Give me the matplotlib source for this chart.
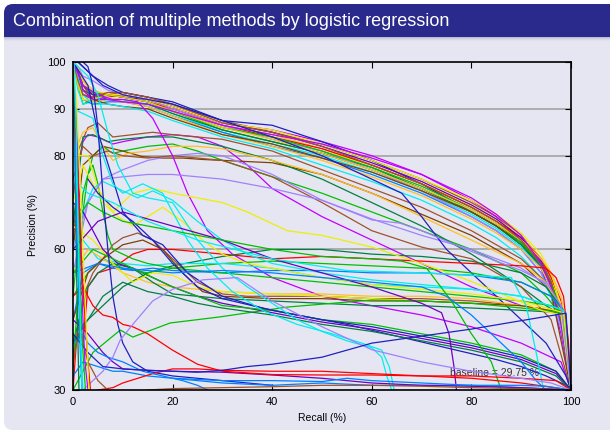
import matplotlib.pyplot as plt
from matplotlib.patches import FancyBboxPatch, Rectangle

plt.rcParams['font.family'] = ['Liberation Sans', 'DejaVu Sans']

RED = '#FF0000'
GREEN = '#00C000'
SKY = '#0080FF'
MAGENTA = '#C000FF'
CYAN = '#00EEEE'
BROWN = '#A0522D'
YELLOW = '#EEEE00'
NAVY = '#2020C0'
GOLD = '#FFC020'
DKGREEN = '#008040'
LAVENDER = '#A080FF'
DKBROWN = '#804000'
PURPLE = '#7000C0'

# upper bundle: all curves share one recall grid
top_recall = [0, 1, 2, 4, 7, 10, 15, 20, 30, 40, 50, 60, 70, 80, 85, 90, 94, 96, 98, 99, 100]
top_precision = [
    [100, 99, 96, 93, 93.5, 93, 92, 90.5, 86.5, 84.5, 81.5, 78, 74, 69, 66, 62, 57, 52, 44, 38, 30],
    [100, 98, 95, 92, 93, 93.5, 92.5, 91, 87.5, 85, 82.5, 79, 75, 70, 67, 63, 58, 54, 47, 40, 30],
    [100, 96, 93, 92, 92.5, 93, 92, 90.5, 87, 85.5, 83, 80, 76, 70.5, 67, 62, 56, 50, 42, 36, 30],
    [100, 100, 99, 97, 95, 93.5, 92.5, 91.5, 87.5, 86.5, 83, 79, 74, 68, 65, 61, 56, 52, 45, 38, 30],
    [100, 97, 92, 91, 92.5, 92, 91, 89.5, 86, 84, 81, 78, 74, 69.5, 66.5, 63, 58, 54, 47, 41, 30],
    [100, 95, 91, 92, 93, 92.5, 91.5, 89.5, 85.5, 83, 80.5, 77, 73, 68, 65, 61, 57, 53, 47, 42, 30],
    [100, 94, 91, 91.5, 92, 92, 91, 89, 85, 82.5, 80, 76.5, 72.5, 67.5, 64.5, 60.5, 56, 52, 46, 40, 30],
    [100, 97, 93, 92.5, 93, 92.5, 91.5, 90, 86.5, 84, 81.5, 78, 74, 69, 66, 62.5, 58, 54, 49, 43, 30],
    [100, 98, 94, 93, 92, 91.5, 91, 89, 85.5, 83, 80.5, 77.5, 73, 68, 65, 61, 56.5, 52, 45, 39, 30],
    [100, 96, 92, 91, 91.5, 91.5, 90.5, 88.5, 85, 82, 79.5, 76, 72, 67, 64, 60, 55, 51, 44, 38, 30],
    [100, 99, 97, 96, 94, 93, 92, 90, 86.5, 83.5, 81, 77, 72.5, 67, 64, 60, 55, 50, 43, 37, 30],
    [100, 95, 92, 91.5, 92, 91.5, 90.5, 88.5, 84.5, 82, 79, 75.5, 71.5, 66.5, 63.5, 60, 56, 52, 46, 40, 30],
    [100, 97, 94, 92, 91, 90.5, 90, 88, 84.5, 82.5, 79.5, 76.5, 72.5, 68, 65, 61.5, 57, 52.5, 46, 40, 30],
    [100, 98, 95, 93, 93, 92.5, 92, 90.5, 87, 85, 82, 78.5, 74.5, 69.5, 66.5, 62.5, 57.5, 53, 46, 40, 30],
    [100, 96, 92, 92, 93, 93, 92, 90.5, 87, 85.5, 82.5, 79, 75, 70.5, 67.5, 63.5, 59, 55, 48, 41, 30],
    [100, 97, 93, 91, 91, 90.5, 89.5, 87.5, 84, 81.5, 78, 74.5, 70.5, 65.5, 62.5, 58.5, 54, 50, 44, 38, 30],
    [100, 98, 95, 93.5, 93, 92.5, 91.5, 89.5, 86, 84, 81, 77.5, 73.5, 68.5, 65.5, 61.5, 57, 53, 46, 40, 30],
    [100, 99, 96, 94, 93, 92.5, 91.5, 89.5, 86, 83.5, 80.5, 77, 73, 68.5, 65.5, 62, 58, 55, 50, 44, 30],
    [100, 96, 93, 92.5, 93.5, 93.5, 92.5, 91, 87, 85, 82, 78, 74, 69, 66, 62, 57, 53, 45, 39, 30],
    [100, 98, 94, 92, 92, 91.5, 91, 89.5, 86.5, 84.5, 82.5, 79.5, 76, 71, 67.5, 63, 57, 52, 44, 37, 30],
]
top_colors = [GOLD, BROWN, MAGENTA, NAVY, YELLOW, GREEN, CYAN, RED, DKGREEN, SKY,
              LAVENDER, GOLD, DKBROWN, PURPLE, YELLOW, CYAN, GREEN, GOLD, BROWN, MAGENTA]

# second tier, starting near 80-87 and falling off faster
second_curves = [
    (MAGENTA, [0, 1, 2, 3, 5, 8, 10, 15, 20, 25, 30, 35, 40, 50, 60, 70, 80, 90, 98, 100],
              [60, 78, 83, 84.5, 84, 82.5, 83, 84, 84.5, 84, 82, 78, 73, 67, 62, 57, 52, 48, 46.5, 30]),
    (GREEN, [0, 2, 4, 6, 8, 10, 15, 20, 25, 30, 40, 50, 60, 70, 80, 90, 95, 98, 100],
            [50, 72, 80, 82, 80.5, 81, 82, 82.5, 81, 79, 75.5, 72, 68, 64, 60, 55, 50, 46, 30]),
    (BROWN, [0, 1, 3, 5, 8, 12, 16, 20, 25, 30, 40, 50, 60, 70, 80, 90, 95, 98, 100],
            [70, 81, 86, 87, 84, 84.5, 85, 84.5, 84, 83.5, 81, 77, 73, 69, 64, 58, 53, 47, 30]),
    (DKBROWN, [0, 2, 4, 6, 10, 14, 18, 22, 26, 30, 40, 50, 60, 70, 80, 90, 96, 100],
              [60, 78, 80, 82, 81, 79.8, 79.5, 79.5, 79.2, 79, 78.5, 76, 72, 67.5, 63, 57, 51, 30]),
    (LAVENDER, [0, 3, 6, 10, 15, 20, 25, 30, 40, 50, 60, 70, 80, 90, 95, 98, 100],
               [55, 70, 75, 77, 79, 80, 80.5, 80, 76, 70.5, 66.5, 63, 60, 56, 52.5, 48, 30]),
    (DKGREEN, [0, 2, 4, 7, 10, 15, 20, 30, 40, 50, 60, 70, 80, 90, 95, 98, 100],
              [65, 84, 84.5, 83, 83.5, 84, 84, 82, 79, 75, 70, 65, 59, 52, 48, 46, 30]),
    (GOLD, [0, 2, 4, 6, 8, 11, 15, 20, 25, 30, 40, 50, 60, 70, 80, 90, 95, 98, 100],
           [80, 85, 86, 82, 79, 80.5, 81, 82, 82, 81.5, 79, 76, 72, 67, 62, 57, 53, 47, 30]),
    (BROWN, [0, 2, 4, 7, 10, 15, 20, 30, 40, 50, 60, 70, 80, 90, 96, 100],
            [75, 82, 80, 81, 80, 79.5, 80, 79, 75.5, 70, 64, 60.5, 58, 52, 45, 30]),
    (MAGENTA, [0, 2, 5, 8, 10, 13, 16, 20, 23, 27, 32, 40, 50, 60, 70, 80, 90, 98, 100],
              [100, 95, 93, 92, 92, 91.5, 88, 80, 72, 64, 59, 54, 50, 48, 46, 43.5, 40, 36, 30]),
    (NAVY, [0, 1, 3, 6, 10, 15, 20, 30, 40, 50, 60, 66, 70, 75, 80, 85, 89, 95, 99, 100],
           [100, 100, 98, 95, 93, 92, 91, 87.5, 84, 80, 75, 72, 67, 60, 55, 50, 46, 40, 33, 30]),
]

# middle band curves, mostly converging towards (98.5, 46.5)
middle_curves = [
    (RED, [0, 1, 2, 3, 5, 8, 10, 12, 15, 20, 25, 30, 40, 50, 60, 70, 80, 90, 95, 97, 98.5, 99.5, 100],
          [30, 45, 40, 52, 55, 56, 57.5, 59, 60, 60, 59.5, 59, 58, 58.5, 58, 57.5, 57, 56.5, 56, 54, 50, 40, 30]),
    (DKGREEN, [0, 2, 5, 10, 15, 20, 30, 40, 50, 60, 70, 80, 90, 95, 98.5, 100],
              [38, 44, 47, 52, 55, 56.5, 58.5, 60, 60, 59, 58.5, 57.5, 55, 52, 47, 30]),
    (GREEN, [0, 3, 6, 10, 15, 20, 30, 40, 50, 60, 70, 80, 90, 96, 98.5, 100],
            [50, 55, 58, 56, 55, 56, 57, 57.5, 57, 56.5, 56, 55, 53, 50, 47, 30]),
    (SKY, [0, 2, 5, 8, 12, 16, 20, 30, 40, 50, 60, 70, 80, 90, 96, 98.5, 100],
          [45, 55, 57, 56, 55.5, 56, 55.5, 55, 55.5, 55.5, 55, 55, 54.5, 53, 50, 47, 30]),
    (CYAN, [0, 2, 5, 10, 15, 20, 30, 40, 50, 60, 70, 80, 90, 98.5, 100],
           [60, 62, 58, 57, 56.5, 57, 57, 56, 54, 52.5, 52, 51.5, 50, 47, 30]),
    (BROWN, [0, 2, 4, 6, 8, 10, 13, 16, 20, 25, 30, 35, 40, 50, 60, 70, 80, 90, 98.5, 100],
            [35, 50, 55, 58, 61, 62.5, 63.5, 62, 58, 53, 50.5, 50, 50, 50, 49.5, 49.5, 49, 48, 46.5, 30]),
    (GOLD, [0, 3, 6, 10, 15, 20, 25, 30, 40, 50, 60, 70, 80, 90, 98.5, 100],
           [55, 60, 58, 55, 53, 52, 51.5, 51, 50.5, 50.5, 50, 50, 49.5, 48, 46.5, 30]),
    (DKGREEN, [0, 3, 5, 8, 12, 16, 20, 25, 30, 40, 50, 60, 70, 80, 90, 98.5, 100],
              [40, 52, 55, 57, 56, 53, 50.5, 50, 49.5, 49, 48.5, 48, 48, 47.5, 47, 46.5, 30]),
    (YELLOW, [0, 4, 8, 12, 16, 20, 25, 30, 40, 50, 60, 70, 80, 90, 98.5, 100],
             [65, 62, 57, 53, 55, 54.5, 52, 51, 50.5, 50, 49.5, 49, 48.5, 48, 46.5, 30]),
    (DKBROWN, [0, 3, 6, 10, 14, 18, 22, 26, 30, 40, 50, 60, 70, 80, 90, 98.5, 100],
              [45, 55, 58, 61, 62, 60, 55, 51, 50, 49.5, 49.5, 49, 49, 48.5, 48, 46.5, 30]),
    (GREEN, [0, 4, 9.5, 12, 19.5, 29.5, 43, 60, 70, 80, 90, 98.5, 100],
            [30, 38, 42.8, 41.3, 44.3, 45.6, 47.7, 49.2, 49, 48.5, 47.5, 46.5, 30]),
    (GREEN, [0, 1, 2, 3, 4, 5, 6, 7, 8, 10, 12, 15, 20, 25, 30, 40, 50, 60, 70, 80, 90, 96, 98.5, 100],
            [35, 50, 68, 76, 78, 74, 68, 63, 60, 59, 58, 57, 56, 55.5, 55, 54, 53, 52, 51, 50, 49, 48, 46.5, 30]),
    (YELLOW, [0, 3, 5, 8, 12, 16, 20, 25, 30, 35, 43, 50, 60, 70, 78, 85, 94, 98, 100],
             [80, 80, 73, 68, 72, 73, 72, 71, 70, 68, 64, 63, 60.5, 57, 54, 51, 47, 46, 30]),
    (CYAN, [0, 2, 4, 6, 8, 10, 13, 16, 20, 25, 30, 35, 40, 45, 50, 60, 70, 80, 90, 98.5, 100],
           [60, 68, 73, 74.5, 73.5, 72.5, 71, 72.5, 70.5, 66, 62, 59, 57, 56, 55, 53.5, 52.5, 51.5, 50, 47, 30]),
    (YELLOW, [0, 2, 4, 6, 9, 12, 15, 18, 22, 26, 30, 35, 40, 50, 60, 70, 80, 90, 98.5, 100],
             [70, 78, 74, 70, 67, 65, 67, 69, 66, 62, 59, 57, 56, 54, 52.5, 51.5, 50.5, 49, 46.5, 30]),
    (LAVENDER, [0, 3, 6, 10, 15, 20, 30, 40, 50, 60, 65.7, 70, 79, 85, 90, 95.2, 98, 100],
               [60, 70, 75, 75.5, 76, 76, 75, 73, 70.5, 66.3, 65.6, 64, 60, 57.5, 55.5, 52.8, 48, 30]),
]

# curves sliding down towards the lower right corner
falling_curves = [
    (NAVY, [0, 3, 5, 8, 10, 14, 18, 23, 30, 38, 45, 55, 65, 75, 85, 90, 95, 99, 100],
           [100, 95, 85, 75, 68, 63, 61, 55, 50, 47.5, 46, 44, 41.5, 39, 36.5, 35, 33, 31, 30]),
    (PURPLE, [0, 2, 4, 6, 9, 12, 16, 20, 25, 30, 40, 50, 60, 70, 80, 90, 97, 100],
             [70, 68, 64, 60, 57, 56, 54, 52, 50, 48.5, 46.5, 44.5, 43, 41, 39, 36.5, 33.5, 30]),
    (DKGREEN, [0, 3, 6, 10, 15, 20, 25, 30, 40, 50, 60, 70, 80, 90, 97, 100],
              [40, 45, 50, 53, 51, 50, 48.5, 47.5, 46, 44, 42.5, 40.5, 38.5, 36, 33, 30]),
    (GREEN, [0, 4, 8, 12, 16, 20, 25, 30, 40, 50, 60, 70, 80, 90, 97, 100],
            [55, 60, 58, 56, 54, 52, 50, 48, 47, 45, 44, 42, 40, 37.5, 34, 30]),
    (NAVY, [3, 5, 8, 12, 16, 20, 25, 30, 40, 50, 60, 70, 80, 90, 97, 100],
           [75, 72, 69, 66, 62, 57, 52, 49.5, 47, 45, 43.5, 41.5, 39.5, 37, 34, 30]),
    (CYAN, [0, 3, 5, 7, 9, 12, 15, 20, 25, 30, 35, 40, 45, 50, 55, 60, 62, 63, 64],
           [100, 97, 93, 85, 78, 72, 71, 70, 62, 56, 52, 48.5, 45, 42.5, 40.5, 39, 37, 33, 30]),
    (CYAN, [0, 4, 6, 8, 10, 14, 18, 20, 23, 27, 32, 38, 45, 52, 58, 62, 63.5, 64.5],
           [90, 88, 80, 74, 72, 74, 72, 68, 62, 56, 51, 47, 44, 42, 40, 38.5, 35, 30]),
    (PURPLE, [0, 5, 10, 20, 30, 40, 50, 60, 70, 74, 75.5, 76.5, 77],
             [60, 66, 68, 65, 62, 58, 55, 52, 48.5, 46.5, 42, 35, 30]),
    (GREEN, [0, 3, 6, 10, 20, 30, 40, 50, 60, 66, 71, 76, 80, 84, 86],
            [65, 70, 68, 66, 64, 62, 60, 58.5, 58, 57.5, 56, 49, 42, 36, 30]),
    (CYAN, [0, 3, 8, 15, 25, 40, 55, 70, 80, 88, 91, 93, 94.5],
           [75, 72, 70, 66, 62, 58, 55.5, 55, 54.5, 54, 48, 38, 30]),
    (SKY, [0, 5, 10, 20, 30, 40, 50, 60, 70, 75, 80, 85, 90, 93, 95],
          [55, 57, 56, 55, 55.5, 55, 54, 53, 52, 50, 46, 41, 36, 32, 30]),
    (NAVY, [2, 3, 4, 5, 6, 7, 8, 9, 10, 12, 15, 20, 30, 40],
           [100, 99, 95, 86, 72, 60, 50, 44, 40, 36, 34, 33, 32, 31]),
]

# low precision curves and the steep ones hugging the y axis
bottom_curves = [
    (SKY, [0, 2, 5, 8, 10, 15, 20, 30, 40, 50, 60, 70, 80, 90, 100],
          [33, 36, 35, 34, 34, 33, 32.5, 31.5, 31, 31.5, 31, 31, 31, 30.5, 30]),
    (RED, [5, 8, 10, 13, 16, 20, 25, 30, 40, 50, 60, 70, 80, 90, 97, 100],
          [30, 30.5, 31.5, 32.5, 33.5, 34.5, 34.5, 34.2, 34, 34, 33.5, 33, 33, 32.5, 32, 30]),
    (PURPLE, [0, 3, 6, 8, 10, 15, 20, 30, 40, 50, 60, 70, 80, 90, 100],
             [45, 42, 38, 36, 34.5, 34.2, 34, 33.8, 33.2, 32.5, 31.5, 31, 30.8, 30.5, 30]),
    (BROWN, [0, 1, 2, 3, 4, 5, 6, 7],
            [36, 42, 40, 36, 34, 32, 31, 30]),
    (SKY, [0, 1, 2, 3, 5, 7, 10, 14, 18, 22, 25, 27],
          [40, 41, 42, 40, 38, 37, 36, 34, 33, 32, 31, 30]),
    (BROWN, [15, 20, 30, 40, 50, 60, 70, 80, 90, 100],
            [30, 30.3, 30.5, 30.7, 31, 31, 30.8, 30.5, 30.3, 30]),
    (RED, [0, 2, 4, 6, 8, 10, 12, 15, 20, 25, 30, 40, 50, 60, 70, 80, 90, 100],
          [50, 52, 48, 46, 45.5, 44, 43.5, 42, 38.5, 35.5, 34, 33.3, 33.2, 33.2, 33, 32.5, 31.5, 30]),
    (SKY, [20, 30, 40, 50, 55, 60, 70, 80, 90, 95, 100],
          [32.5, 32, 32, 31.8, 32.5, 32, 31.5, 31, 31, 30.8, 30]),
    (LAVENDER, [2, 4, 6, 8, 9.5, 12, 16, 20, 26, 33, 40, 50, 60, 70, 80, 90, 96, 100],
               [30, 32, 34, 37, 40.7, 44, 49, 51.5, 53.5, 54, 49, 43.5, 38.6, 36, 34, 32.5, 31.5, 30]),
    (NAVY, [0, 3, 6, 10, 15, 20, 25, 30, 35, 40, 50, 60, 70, 80, 90, 99, 100],
           [42, 38, 35, 34.5, 34.2, 34, 33.8, 34.2, 35, 35.5, 37, 40, 41.5, 43, 44.8, 46.4, 30]),
    (GREEN, [0, 0.5, 1, 1.5, 2, 2.5], [100, 90, 70, 50, 38, 30]),
    (CYAN, [0, 0.6, 1.2, 1.6, 2], [98, 80, 55, 40, 30]),
    (MAGENTA, [0, 0.8, 1.5, 2, 2.4, 3], [100, 85, 62, 45, 36, 30]),
    (RED, [0, 1, 1.5, 2, 2.5, 3, 3.5], [95, 75, 62, 52, 44, 36, 30]),
    (YELLOW, [0, 0.7, 1.4, 2, 2.6, 3.2], [100, 92, 75, 60, 45, 30]),
    (DKGREEN, [0, 0.4, 0.8, 1.2], [100, 80, 50, 30]),
    (SKY, [0, 0.5, 1, 1.4, 1.8], [90, 75, 55, 40, 30]),
    (CYAN, [0.2, 0.6, 1, 1.5, 1.8], [100, 88, 66, 42, 30]),
]

x_ticks = [0, 20, 40, 60, 80, 100]
y_ticks = [30, 60, 80, 90, 100]
grid_levels = [60, 80, 90]
baseline = 29.75

W, H = 610, 434
SLIDE_BG = '#E6E6F2'
BAR = '#2A2A8C'

fig = plt.figure(figsize=(W / 100, H / 100), dpi=100)

# slide frame drawn in pixel coordinates
bg = fig.add_axes([0, 0, 1, 1])
bg.set_xlim(0, W)
bg.set_ylim(H, 0)
bg.axis('off')
bg.add_patch(FancyBboxPatch((4, 4), W + 20, H - 8, boxstyle='round,pad=0,rounding_size=9',
                            fc=SLIDE_BG, ec='none'))
bg.add_patch(FancyBboxPatch((4, 4), W + 20, 33, boxstyle='round,pad=0,rounding_size=9',
                            fc=BAR, ec='none'))
bg.add_patch(Rectangle((4, 20), W + 20, 17, fc=BAR, ec='none'))
for i, a in enumerate([0.25, 0.15, 0.08, 0.03]):
    bg.add_patch(Rectangle((4, 37 + i), W, 1, fc='#404080', alpha=a, ec='none'))
bg.text(13, 21.5, 'Combination of multiple methods by logistic regression',
        color='white', fontsize=13, va='center', ha='left')

ax = fig.add_axes([73 / W, 44 / H, 498 / W, 328 / H])
ax.set_facecolor('none')

for y in grid_levels:
    ax.axhline(y, color='#A8A8A8', lw=1.3, zorder=1)

ax.text(93.6, 33.6, 'baseline = %.2f %%' % baseline, ha='right', va='center',
        fontsize=7.5, color='#333333', zorder=1.5)

lw = 0.9
for prec, col in zip(top_precision, top_colors):
    ax.plot(top_recall, prec, color=col, lw=lw, solid_joinstyle='round', zorder=2)
for group in (second_curves, middle_curves, falling_curves, bottom_curves):
    for col, rec, prec in group:
        ax.plot(rec, prec, color=col, lw=lw, solid_joinstyle='round', zorder=2)

ax.set_xlim(0, 100)
ax.set_ylim(30, 100)
ax.set_xticks(x_ticks)
ax.set_yticks(y_ticks)
ax.tick_params(direction='in', length=4, width=0.8, top=True, right=True,
               labelsize=8, pad=5)
for s in ax.spines.values():
    s.set_linewidth(1.2)

fig.text(322 / W, 1 - 418 / H, 'Recall (%)', ha='center', va='center', fontsize=7.5)
fig.text(33 / W, 1 - 225 / H, 'Precision (%)', ha='center', va='center',
         rotation=90, fontsize=7.5)

fig.savefig('out.png', dpi=100)
